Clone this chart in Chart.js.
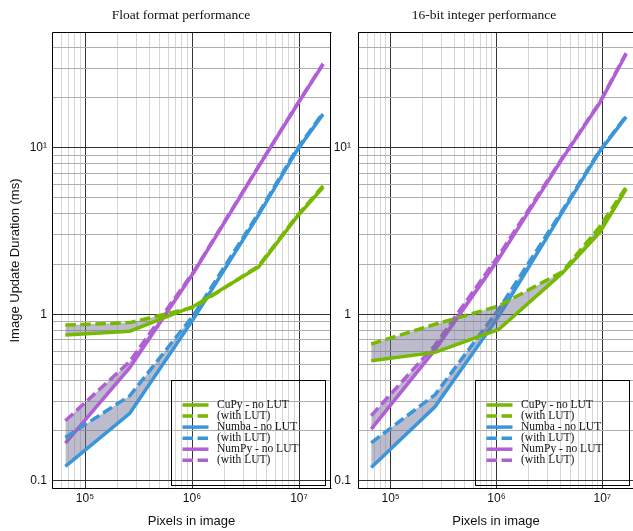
<!DOCTYPE html>
<html>
<head>
<meta charset="utf-8">
<script src="https://cdn.jsdelivr.net/npm/chart.js@4.4.1/dist/chart.umd.min.js"></script>
<style>
  body { margin: 0; background: #fff; overflow: hidden; }
  canvas { position: absolute; top: 0; }
  #floatChart { left: 0; }
  #intChart { left: 334px; }
</style>
</head>
<body>
<canvas id="floatChart" width="334" height="531"></canvas>
<canvas id="intChart" width="320" height="531"></canvas>
<script>
// image sizes (pixels)
const pixels = [65536, 262144, 1048576, 4194304, 9437184, 16777216];

// float format timings (ms)
const floatCupy     = [0.75, 0.79, 1.12, 1.92, 3.8, 5.78];
const floatCupyLut  = [0.86, 0.89, 1.10, 1.95, 3.85, 5.9];
const floatNumba    = [0.122, 0.254, 0.95, 3.95, 9.5, 15.9];
const floatNumbaLut = [0.182, 0.324, 1.0, 4.05, 9.7, 16.2];
const floatNumpy    = [0.168, 0.478, 1.8, 7.7, 17.8, 31.7];
const floatNumpyLut = [0.229, 0.52, 1.82, 7.75, 17.9, 31.9];

// 16-bit integer timings (ms)
const intCupy     = [0.526, 0.59, 0.81, 1.77, 3.1, 5.65];
const intCupyLut  = [0.662, 0.87, 1.12, 1.80, 3.35, 5.8];
const intNumba    = [0.12, 0.278, 0.97, 4.1, 9.5, 15.3];
const intNumbaLut = [0.169, 0.328, 1.07, 4.2, 9.6, 15.5];
const intNumpy    = [0.204, 0.61, 2.15, 8.6, 18.5, 36.5];
const intNumpyLut = [0.246, 0.65, 2.25, 8.7, 18.7, 37.0];

const seriesLabels = ['CuPy - no LUT', '(with LUT)', 'Numba - no LUT', '(with LUT)', 'NumPy - no LUT', '(with LUT)'];
const xTickLabels = [[1e5, '10\u2075'], [1e6, '10\u2076'], [1e7, '10\u2077']];
const yTickLabels = [[0.1, '0.1'], [1, '1'], [10, '10\u00b9']];

const GREEN = '#76b900';
const BLUE = '#3b96d9';
const PURPLE = '#b25fd5';
const FILL = 'rgba(115, 115, 150, 0.48)';
const DASH = [10.5, 4.5];

const X_MIN = 49160, X_MAX = 1.99e7;
const Y_MIN = 0.0892, Y_MAX = 49.5;

// significand of a tick value: 1..9 for grid lines, anything else is not drawn
function significand(v) {
    const s = v / Math.pow(10, Math.floor(Math.log10(v) + 1e-9));
    const r = Math.round(s);
    return Math.abs(s - r) < 1e-6 ? r : 0;
}

function gridColor(major, minor) {
    return (c) => {
        const s = significand(c.tick.value);
        if (s === 1) return major;
        if (s >= 2 && s <= 9) return minor;
        return 'rgba(0,0,0,0)';
    };
}

function labelFor(list, v) {
    for (const [val, txt] of list) {
        if (Math.abs(val - v) / val < 1e-9) return txt;
    }
    return '';
}

function logTicks(min, max) {
    const out = [];
    for (let e = Math.floor(Math.log10(min)); e <= Math.ceil(Math.log10(max)); e++) {
        for (let m = 1; m <= 9; m++) {
            const v = parseFloat((m * Math.pow(10, e)).toPrecision(12));
            if (v >= min && v <= max) out.push({ value: v });
        }
    }
    return out;
}

function makeDatasets(vals) {
    const colors = [GREEN, GREEN, BLUE, BLUE, PURPLE, PURPLE];
    return vals.map((v, i) => ({
        label: seriesLabels[i],
        data: pixels.map((x, j) => ({ x: x, y: v[j] })),
        borderColor: colors[i],
        backgroundColor: FILL,
        borderWidth: 3.5,
        borderDash: i % 2 === 1 ? DASH : [],
        borderCapStyle: 'butt',
        fill: i % 2 === 1 ? '-1' : false,
        pointRadius: 0,
        tension: 0
    }));
}

// frame, title and boxed legend
const decor = {
    id: 'decor',
    afterDraw(chart, args, opts) {
        const ctx = chart.ctx;
        const a = chart.chartArea;
        const l = Math.round(a.left) + 0.5, r = Math.round(a.right) - 0.5;
        const t = Math.round(a.top) + 0.5, btm = Math.round(a.bottom) - 0.5;
        ctx.save();
        ctx.strokeStyle = '#000';
        ctx.lineWidth = 1;
        ctx.beginPath();
        if (opts.frameRight) {
            ctx.moveTo(r, t);
            ctx.lineTo(r, btm);
        }
        ctx.moveTo(r + 1, t);
        ctx.lineTo(l, t);
        ctx.lineTo(l, btm);
        ctx.lineTo(r + 1, btm);
        ctx.stroke();

        ctx.fillStyle = '#111';
        ctx.font = '13.5px "Liberation Serif", "Times New Roman", serif';
        ctx.textAlign = 'center';
        ctx.textBaseline = 'middle';
        ctx.fillText(opts.title, opts.titleX, 15.5);

        const b = opts.legendBox;
        ctx.strokeStyle = '#000';
        ctx.strokeRect(b.left + 0.5, b.top + 0.5, b.width, b.height);
        ctx.font = '11.5px "Liberation Serif", "Times New Roman", serif';
        ctx.textAlign = 'left';
        ctx.fillStyle = '#111';
        chart.data.datasets.forEach((ds, i) => {
            const y = b.top + 25 + i * 11.05;
            ctx.beginPath();
            ctx.strokeStyle = ds.borderColor;
            ctx.lineWidth = ds.borderWidth;
            ctx.lineCap = 'butt';
            ctx.setLineDash(ds.borderDash);
            ctx.moveTo(b.left + 11.5, y);
            ctx.lineTo(b.left + 37.5, y);
            ctx.stroke();
            ctx.setLineDash([]);
            ctx.fillText(ds.label, b.left + 46, y);
        });
        ctx.restore();
    }
};

function makeChart(id, vals, cfg) {
    const tickFont = { family: '"Liberation Sans", Arial, sans-serif', size: 12 };
    const titleFont = { family: '"Liberation Sans", Arial, sans-serif', size: 13 };
    return new Chart(document.getElementById(id), {
        type: 'line',
        data: { datasets: makeDatasets(vals) },
        plugins: [decor],
        options: {
            responsive: false,
            animation: false,
            layout: { padding: { top: 32, right: cfg.padRight, left: 0, bottom: 0 } },
            plugins: {
                legend: { display: false },
                tooltip: { enabled: false },
                decor: {
                    title: cfg.title, titleX: cfg.titleX,
                    legendBox: cfg.legendBox, frameRight: cfg.frameRight
                }
            },
            scales: {
                x: {
                    type: 'logarithmic',
                    min: X_MIN,
                    max: X_MAX,
                    afterBuildTicks: (scale) => { scale.ticks = logTicks(X_MIN, X_MAX); },
                    afterFit: (scale) => { scale.height = 42; },
                    border: { display: false },
                    grid: {
                        drawTicks: false,
                        lineWidth: 1,
                        color: gridColor('#333', '#d6d6d6')
                    },
                    ticks: {
                        autoSkip: false,
                        maxRotation: 0,
                        padding: 2,
                        color: '#111',
                        font: tickFont,
                        callback: (v) => labelFor(xTickLabels, v)
                    },
                    title: {
                        display: true,
                        text: 'Pixels in image',
                        color: '#111',
                        font: titleFont,
                        padding: { top: 0, bottom: 2 }
                    }
                },
                y: {
                    type: 'logarithmic',
                    min: Y_MIN,
                    max: Y_MAX,
                    afterBuildTicks: (scale) => { scale.ticks = logTicks(Y_MIN, Y_MAX); },
                    afterFit: (scale) => { scale.width = cfg.yWidth; },
                    border: { display: false },
                    grid: {
                        drawTicks: false,
                        lineWidth: 1,
                        color: gridColor('#333', '#adadad')
                    },
                    ticks: {
                        autoSkip: false,
                        padding: cfg.yPad,
                        color: '#111',
                        font: tickFont,
                        callback: (v) => labelFor(yTickLabels, v)
                    },
                    title: {
                        display: cfg.yTitle,
                        text: 'Image Update Duration (ms)',
                        color: '#111',
                        font: titleFont,
                        padding: { top: 8, bottom: 0 }
                    }
                }
            }
        }
    });
}

makeChart('floatChart',
    [floatCupy, floatCupyLut, floatNumba, floatNumbaLut, floatNumpy, floatNumpyLut],
    {
        title: 'Float format performance', titleX: 181,
        padRight: 3, yWidth: 52, yPad: 5, yTitle: true, frameRight: true,
        legendBox: { left: 171, top: 380, width: 154, height: 105 }
    });

makeChart('intChart',
    [intCupy, intCupyLut, intNumba, intNumbaLut, intNumpy, intNumpyLut],
    {
        title: '16-bit integer performance', titleX: 150,
        padRight: 20, yWidth: 24, yPad: 7, yTitle: false, frameRight: false,
        legendBox: { left: 141, top: 380, width: 154, height: 105 }
    });
</script>
</body>
</html>
